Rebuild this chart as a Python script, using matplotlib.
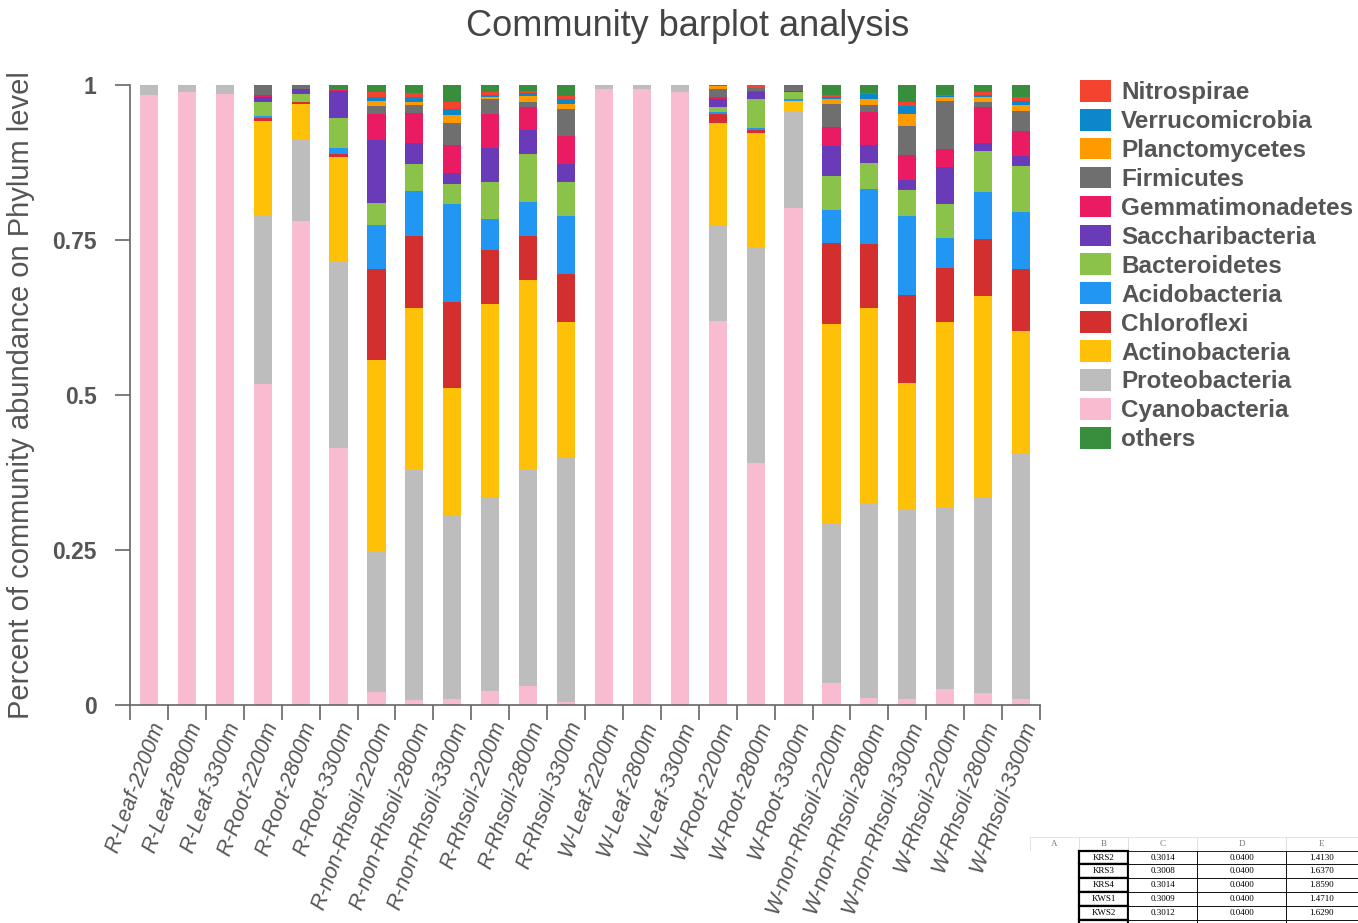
import numpy as np
import matplotlib.pyplot as plt
from matplotlib.patches import Patch

plt.rcParams['font.family'] = ['Liberation Sans', 'DejaVu Sans']

samples = ['R-Leaf-2200m', 'R-Leaf-2800m', 'R-Leaf-3300m',
           'R-Root-2200m', 'R-Root-2800m', 'R-Root-3300m',
           'R-non-Rhsoil-2200m', 'R-non-Rhsoil-2800m', 'R-non-Rhsoil-3300m',
           'R-Rhsoil-2200m', 'R-Rhsoil-2800m', 'R-Rhsoil-3300m',
           'W-Leaf-2200m', 'W-Leaf-2800m', 'W-Leaf-3300m',
           'W-Root-2200m', 'W-Root-2800m', 'W-Root-3300m',
           'W-non-Rhsoil-2200m', 'W-non-Rhsoil-2800m', 'W-non-Rhsoil-3300m',
           'W-Rhsoil-2200m', 'W-Rhsoil-2800m', 'W-Rhsoil-3300m']

# stacking order, bottom -> top
phyla = ['Cyanobacteria', 'Proteobacteria', 'Actinobacteria', 'Chloroflexi',
         'Acidobacteria', 'Bacteroidetes', 'Saccharibacteria', 'Gemmatimonadetes',
         'Firmicutes', 'Planctomycetes', 'Verrucomicrobia', 'Nitrospirae', 'others']

colors = {'Nitrospirae': '#f4432f', 'Verrucomicrobia': '#0b87cc', 'Planctomycetes': '#ff9a00',
          'Firmicutes': '#6f6f6f', 'Gemmatimonadetes': '#ea1b63', 'Saccharibacteria': '#6a3bb8',
          'Bacteroidetes': '#8bc34a', 'Acidobacteria': '#2196f3', 'Chloroflexi': '#d32f2f',
          'Actinobacteria': '#ffc107', 'Proteobacteria': '#bdbdbd', 'Cyanobacteria': '#f8bbd0',
          'others': '#388e3c'}

cyanobacteria = [.984, .989, .985, .518, .780, .415, .021, .008, .010, .022, .030, .005,
                 .993, .994, .988, .619, .391, .801, .035, .012, .010, .026, .019, .010]
proteobacteria = [.016, .011, .015, .272, .131, .300, .225, .371, .296, .312, .349, .393,
                  .007, .006, .012, .155, .346, .155, .258, .312, .305, .293, .315, .396]
actinobacteria = [0, 0, 0, .152, .059, .169, .311, .261, .205, .313, .306, .219,
                  0, 0, 0, .165, .185, .018, .322, .317, .204, .299, .326, .197]
chloroflexi = [0, 0, 0, .004, .003, .004, .146, .117, .139, .087, .072, .078,
               0, 0, 0, .015, .005, 0, .130, .103, .143, .087, .092, .101]
acidobacteria = [0, 0, 0, .004, 0, .010, .071, .072, .158, .050, .054, .093,
                 0, 0, 0, .003, .003, .003, .053, .089, .126, .048, .076, .091]
bacteroidetes = [0, 0, 0, .022, .012, .048, .035, .043, .032, .059, .078, .055,
                 0, 0, 0, .008, .048, .011, .055, .042, .043, .055, .066, .075]
saccharibacteria = [0, 0, 0, .008, .008, .044, .102, .034, .018, .056, .038, .029,
                    0, 0, 0, .012, .010, .002, .049, .029, .016, .059, .012, .016]
gemmatimonadetes = [0, 0, 0, .004, 0, .002, .043, .049, .045, .054, .037, .045,
                    0, 0, 0, .004, .002, 0, .031, .053, .040, .030, .058, .040]
firmicutes = [0, 0, 0, .014, .005, .002, .012, .012, .035, .025, .009, .045,
              0, 0, 0, .012, .005, .008, .037, .011, .047, .077, .009, .032]
planctomycetes = [0, 0, 0, 0, 0, 0, .008, .006, .013, .003, .010, .007,
                  0, 0, 0, .005, 0, 0, .008, .009, .019, .007, .007, .010]
verrucomicrobia = [0, 0, 0, 0, 0, 0, .006, .008, .010, .003, .004, .009,
                   0, 0, 0, 0, 0, 0, .002, .008, .013, .001, .004, .006]
nitrospirae = [0, 0, 0, 0, 0, 0, .008, .006, .012, .004, .004, .004,
               0, 0, 0, 0, .005, 0, .004, .002, .007, .002, .004, .007]
others = [0, 0, 0, .002, .002, .006, .012, .013, .027, .012, .009, .018,
          0, 0, 0, .002, 0, .002, .016, .013, .027, .016, .012, .019]

values = [cyanobacteria, proteobacteria, actinobacteria, chloroflexi, acidobacteria,
          bacteroidetes, saccharibacteria, gemmatimonadetes, firmicutes, planctomycetes,
          verrucomicrobia, nitrospirae, others]

fig = plt.figure(figsize=(13.58, 9.23), dpi=100)
ax = fig.add_axes([130 / 1358, 1 - 705 / 923, 910 / 1358, 620 / 923])

x = np.arange(len(samples))
bottom = np.zeros(len(samples))
for name, vals in zip(phyla, values):
    vals = np.array(vals)
    ax.bar(x, vals, 0.48, bottom=bottom, color=colors[name], linewidth=0)
    bottom += vals

ax.set_xlim(-0.5, len(samples) - 0.5)
ax.set_ylim(0, 1)
for s in ['top', 'right']:
    ax.spines[s].set_visible(False)
for s in ['left', 'bottom']:
    ax.spines[s].set_color('#666666')
    ax.spines[s].set_linewidth(1.2)

ax.set_yticks([0, 0.25, 0.5, 0.75, 1])
ax.set_yticklabels(['0', '0.25', '0.5', '0.75', '1'], fontsize=16.5, fontweight='bold', color='#555555')
ax.tick_params(axis='y', length=11, width=1.2, color='#666666', pad=13)

ax.set_xticks(np.arange(-0.5, len(samples), 1))
ax.set_xticklabels([])
ax.tick_params(axis='x', which='major', length=11, width=1.2, color='#666666')
ax.set_xticks(x, minor=True)
ax.set_xticklabels(samples, minor=True, rotation=70, ha='right', va='top',
                   rotation_mode='anchor', fontsize=15.5, fontstyle='italic', color='#555555')
ax.tick_params(axis='x', which='minor', length=0, pad=10)

ax.set_ylabel('Percent of community abundance on Phylum level', fontsize=21, color='#555555', labelpad=12)
fig.text(0.506, 0.971, 'Community barplot analysis', ha='center', va='center',
         fontsize=26, color='#444444')

legend_order = phyla[:-1][::-1] + ['others']
handles = [Patch(facecolor=colors[n], edgecolor='none') for n in legend_order]
leg = ax.legend(handles, legend_order, loc='upper left', bbox_to_anchor=(1.033, 1.024),
                frameon=False, handlelength=1.3, handleheight=1.0, handletextpad=0.4,
                labelspacing=0.195, borderaxespad=0, prop={'size': 17.5, 'weight': 'bold'})
for t in leg.get_texts():
    t.set_color('#555555')

# spreadsheet fragment in the lower right corner
tax = fig.add_axes([1030 / 1358, 0, 328 / 1358, 88 / 923])
tax.axis('off')
cells = [['', 'KRS2', '0.3014', '0.0400', '1.4130'],
         ['', 'KRS3', '0.3008', '0.0400', '1.6370'],
         ['', 'KRS4', '0.3014', '0.0400', '1.8590'],
         ['', 'KWS1', '0.3009', '0.0400', '1.4710'],
         ['', 'KWS2', '0.3012', '0.0400', '1.6290'],
         ['', 'KWS3', '0.3002', '0.0400', '2.0690']]
tbl = tax.table(cellText=cells, colLabels=['A', 'B', 'C', 'D', 'E'],
                colWidths=[0.15, 0.15, 0.21, 0.27, 0.22], cellLoc='center',
                bbox=[0, -0.12, 1.0, 1.1])
tbl.auto_set_font_size(False)
for (r, c), cell in tbl.get_celld().items():
    cell.get_text().set_fontsize(6.5)
    cell.get_text().set_fontfamily('Liberation Serif')
    cell.set_linewidth(0.6)
    if r == 0:
        cell.set_edgecolor('#dddddd')
        cell.get_text().set_color('#777777')
    elif c == 0:
        cell.set_edgecolor('white')
    elif c == 1:
        cell.set_linewidth(1.6)

fig.savefig('out.png', dpi=100)
